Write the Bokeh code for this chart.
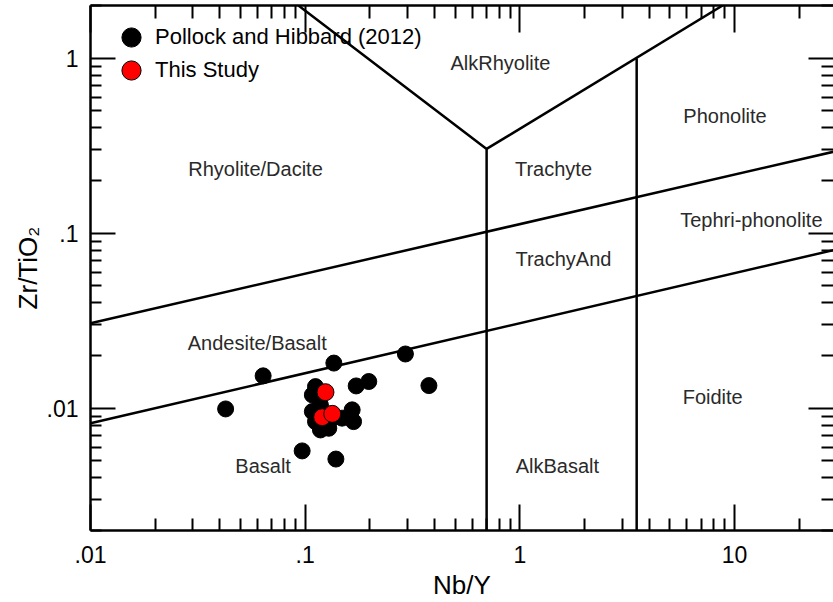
from bokeh.plotting import figure
from bokeh.models import LogAxis, FixedTicker, Range1d, Legend, LegendItem, ColumnDataSource
from bokeh.core.properties import value
from bokeh.embed import file_html
from bokeh.resources import INLINE

# ---- data: Pollock and Hibbard (2012) ----
ph_nby = [0.0426, 0.0637, 0.0968, 0.136, 0.293, 0.377, 0.1728, 0.1978, 0.139,
          0.1117, 0.108, 0.108, 0.1117, 0.1178, 0.1288, 0.1655, 0.168, 0.1485,
          0.1178, 0.1313]
ph_zrti = [0.0099, 0.0153, 0.0057, 0.0181, 0.0204, 0.01346, 0.0134, 0.0142, 0.00512,
           0.01328, 0.0119, 0.00957, 0.00838, 0.00751, 0.00768, 0.00978, 0.00838, 0.00877,
           0.0104, 0.00858]

# ---- data: This Study ----
ts_nby = [0.1243, 0.120, 0.1337]
ts_zrti = [0.01234, 0.00888, 0.00928]

# ---- field boundaries (Nb/Y, Zr/TiO2) ----
upper_x = [0.01, 30.0]
upper_y = [0.0306, 0.295]
lower_x = [0.01, 30.0]
lower_y = [0.0082, 0.0809]
vleft_x = [0.093, 0.70, 0.70]
vleft_y = [2.0, 0.303, 0.002]
vright_x = [0.70, 8.8]
vright_y = [0.303, 2.0]
v2_x = [3.5, 3.5]
v2_y = [0.002, 1.0]

# ---- field labels ----
field_names = ["Rhyolite/Dacite", "AlkRhyolite", "Phonolite", "Trachyte", "Tephri-phonolite",
               "TrachyAnd", "Andesite/Basalt", "Basalt", "AlkBasalt", "Foidite"]
field_x = [0.0587, 0.812, 9.03, 1.434, 11.98, 1.596, 0.0598, 0.0637, 1.496, 7.91]
field_y = [0.233, 0.94, 0.468, 0.233, 0.119, 0.0710, 0.0235, 0.0047, 0.0047, 0.01165]

# ---- ticks ----
x_major = [0.01, 0.1, 1, 10]
x_minor = [0.02, 0.03, 0.04, 0.05, 0.06, 0.07, 0.08, 0.09,
           0.2, 0.3, 0.4, 0.5, 0.6, 0.7, 0.8, 0.9,
           2, 3, 4, 5, 6, 7, 8, 9, 20]
x_labels = [".01", ".1", "1", "10"]
y_major = [0.01, 0.1, 1]
y_minor = [0.002, 0.003, 0.004, 0.005, 0.006, 0.007, 0.008, 0.009,
           0.02, 0.03, 0.04, 0.05, 0.06, 0.07, 0.08, 0.09,
           0.2, 0.3, 0.4, 0.5, 0.6, 0.7, 0.8, 0.9, 2]
y_labels = [".01", ".1", "1"]

FONT = "Liberation Sans"

p = figure(width=833, height=602, x_axis_type="log", y_axis_type="log",
           x_range=Range1d(0.01, 28.9), y_range=Range1d(0.002, 2.0),
           output_backend="svg", toolbar_location=None,
           min_border_left=90, min_border_right=0, min_border_top=5, min_border_bottom=72)
p.grid.visible = False
p.outline_line_color = None
p.background_fill_color = "white"

def style_axis(ax, ticks, minor, major_in, minor_in, labels=None):
    ax.ticker = FixedTicker(ticks=ticks, minor_ticks=minor)
    ax.major_tick_in = major_in
    ax.major_tick_out = 0
    ax.minor_tick_in = minor_in
    ax.minor_tick_out = 0
    ax.major_tick_line_width = 2
    ax.minor_tick_line_width = 2
    ax.major_tick_line_color = "black"
    ax.minor_tick_line_color = "black"
    ax.axis_line_width = 2.5
    ax.axis_line_color = "black"
    if labels is None:
        ax.major_label_overrides = {t: "" for t in ticks}
        ax.major_label_text_font_size = "1px"
        ax.major_label_standoff = 0
    else:
        ax.major_label_overrides = {t: l for t, l in zip(ticks, labels)}
        ax.major_label_text_font = FONT
        ax.major_label_text_font_size = "23px"
        ax.major_label_text_color = "black"

xb = p.xaxis[0]
style_axis(xb, x_major, x_minor, 26, 12, x_labels)
xb.major_label_standoff = 15
xb.axis_label = "Nb/Y"
xb.axis_label_text_font = FONT
xb.axis_label_text_font_size = "26px"
xb.axis_label_text_font_style = "normal"
xb.axis_label_text_color = "black"
xb.axis_label_standoff = 4

yl = p.yaxis[0]
style_axis(yl, y_major, y_minor, 25, 11, y_labels)
yl.major_label_standoff = 12
yl.axis_label = "Zr/TiO\u2082"
yl.axis_label_text_font = FONT
yl.axis_label_text_font_size = "26px"
yl.axis_label_text_font_style = "normal"
yl.axis_label_text_color = "black"
yl.axis_label_standoff = 1

xt = LogAxis()
style_axis(xt, x_major, x_minor, 27, 13)
p.add_layout(xt, "above")

yr = LogAxis()
style_axis(yr, y_major, y_minor, 25, 12)
yr.axis_line_color = None
p.add_layout(yr, "right")

# boundaries
for bx, by in [(upper_x, upper_y), (lower_x, lower_y), (vleft_x, vleft_y),
               (vright_x, vright_y), (v2_x, v2_y)]:
    p.line(bx, by, line_color="black", line_width=2.5)

# field labels
src = ColumnDataSource(dict(x=field_x, y=field_y, t=field_names))
p.text(x="x", y="y", text="t", source=src, text_font=value(FONT), text_font_size="20px",
       text_color="#2a2a2a", text_align="center", text_baseline="middle")

# data points
r_ph = p.scatter(ph_nby, ph_zrti, size=16, fill_color="black", line_color="black")
r_ts = p.scatter(ts_nby, ts_zrti, size=17, fill_color="red", line_color="black", line_width=1)

legend_style = dict(glyph_width=48, glyph_height=50, label_height=50, spacing=0, padding=0,
                    margin=0, label_standoff=-4, label_text_font=FONT,
                    label_text_font_size="22px", label_text_color="black",
                    background_fill_alpha=0, border_line_color=None)
leg1 = Legend(items=[LegendItem(label="Pollock and Hibbard (2012)", renderers=[r_ph])],
              location=(17, 468), **legend_style)
leg2 = Legend(items=[LegendItem(label="This Study", renderers=[r_ts])],
              location=(17, 435), **legend_style)
p.add_layout(leg1)
p.add_layout(leg2)

open("out.html", "w").write(file_html(p, INLINE))
